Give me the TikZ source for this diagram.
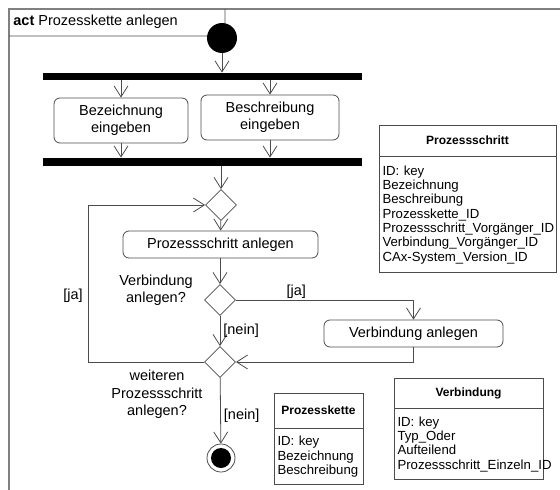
\documentclass[tikz,border=0pt]{standalone}
\usepackage{fontspec}
\setmainfont{Liberation Sans}
\usetikzlibrary{arrows.meta,positioning,shapes.geometric}
\definecolor{aLine}{gray}{0.3}
\definecolor{aFrame}{gray}{0.5}
\newcommand{\actfont}{\fontsize{14.5}{17.3}\selectfont}
\newcommand{\clsfont}{\fontsize{13.2}{14.3}\selectfont}
\tikzset{
    action/.style={draw=aLine, rounded corners=6pt, align=center, font=\actfont, inner sep=2pt},
    bar/.style={fill=black, inner sep=0pt, minimum width=319pt, minimum height=7pt},
    decision/.style={diamond, aspect=1, draw=aLine, inner sep=0pt, minimum size=31pt},
    initial/.style={circle, fill=black, inner sep=0pt, minimum size=30pt},
    final/.style={circle, draw=aLine, inner sep=0pt, minimum size=28pt,
        path picture={\fill[black] (path picture bounding box.center) circle (10pt);}},
    flow/.style={draw=aLine, -{Straight Barb[length=11pt, width=14pt]}},
    lbl/.style={font=\actfont, inner sep=1pt},
    question/.style={font=\actfont, align=center, inner sep=0pt},
    clsname/.style={draw=aLine, font=\fontsize{12}{14}\selectfont\bfseries, inner sep=0pt},
    clsattr/.style={draw=aLine, font=\clsfont, align=left, inner xsep=3.5pt, inner ysep=0pt}
}

\begin{document}
\begin{tikzpicture}[x=1pt,y=-1pt,line width=0.8pt]
\useasboundingbox (0,0) rectangle (560,490);
\draw[aFrame, line width=1.6pt] (9,490) -- (9,9) -- (560,9);
\draw[aLine] (9,36) -- (215,36) -- (225,26) -- (225,9);
\node[font=\fontsize{14.5}{17}\selectfont, anchor=west, inner sep=0pt] (title) at (13,22) {\textbf{act} Prozesskette anlegen};

\node[initial] (start) at (222,38) {};
\node[bar] (fork) at (202.5,76.5) {};
\node[action, minimum width=134pt, minimum height=45pt] (name) at (121,120.5) {Bezeichnung\\eingeben};
\node[action, minimum width=138pt, minimum height=45pt] (descr) at (270,117.5) {Beschreibung\\eingeben};
\node[bar, minimum height=8pt] (join) at (202.5,162) {};
\node[decision] (dec1) at (221,205) {};
\node[action, minimum width=195pt, minimum height=27pt] (step) at (220.5,244.5) {Prozessschritt anlegen};
\node[decision] (dec2) at (220,300) {};
\node[question] (qConn) at (156,290.5) {Verbindung\\anlegen?};
\node[action, minimum width=179pt, minimum height=27pt] (conn) at (413.5,333.5) {Verbindung anlegen};
\node[decision] (dec3) at (220,362) {};
\node[question] (qStep) at (157,394.5) {weiteren\\Prozessschritt\\anlegen?};
\node[final] (stop) at (221,458) {};

\draw[flow] (start) -- (start |- fork.north);
\draw[flow] (fork.south -| name) -- (name);
\draw[flow] (fork.south -| descr) -- (descr);
\draw[flow] (name) -- (name |- join.north);
\draw[flow] (descr) -- (descr |- join.north);
\draw[flow] (join.south -| dec1) -- (dec1);
\draw[flow] (dec1) -- (step);
\draw[flow] (step.south -| dec2) -- (dec2);
\draw[flow] (dec2) -- node[lbl, right, xshift=2pt] {[nein]} (dec3);
\draw[flow] (dec2.east) -| node[lbl, above, pos=0.17] {[ja]} (conn.north);
\draw[flow] (conn.south) |- (dec3.east);
\draw[flow] (dec3.west) -| node[lbl, left, pos=0.71, xshift=-4pt] {[ja]} ([xshift=-117pt]dec1.west) -- (dec1.west);
\draw[flow] (dec3) -- node[lbl, right, pos=0.57, xshift=2pt] {[nein]} (stop);

\node[clsname, minimum width=177pt, minimum height=31pt] (psName) at (467.5,140.5) {Prozessschritt};
\node[clsattr, text width=170pt, minimum height=116pt, below=0pt of psName] (psAttr) {ID: key\\Bezeichnung\\Beschreibung\\Prozesskette\_ID\\Prozessschritt\_Vorgänger\_ID\\Verbindung\_Vorgänger\_ID\\CAx-System\_Version\_ID};
\node[clsname, minimum width=89pt, minimum height=35pt] (pkName) at (318.5,410.5) {Prozesskette};
\node[clsattr, text width=82pt, minimum height=56pt, below=0pt of pkName] (pkAttr) {ID: key\\Bezeichnung\\Beschreibung};
\node[clsname, minimum width=149pt, minimum height=30pt] (vbName) at (468.5,393) {Verbindung};
\node[clsattr, text width=142pt, minimum height=71pt, below=0pt of vbName] (vbAttr) {ID: key\\Typ\_Oder\\Aufteilend\\Prozessschritt\_Einzeln\_ID};
\end{tikzpicture}
\end{document}
